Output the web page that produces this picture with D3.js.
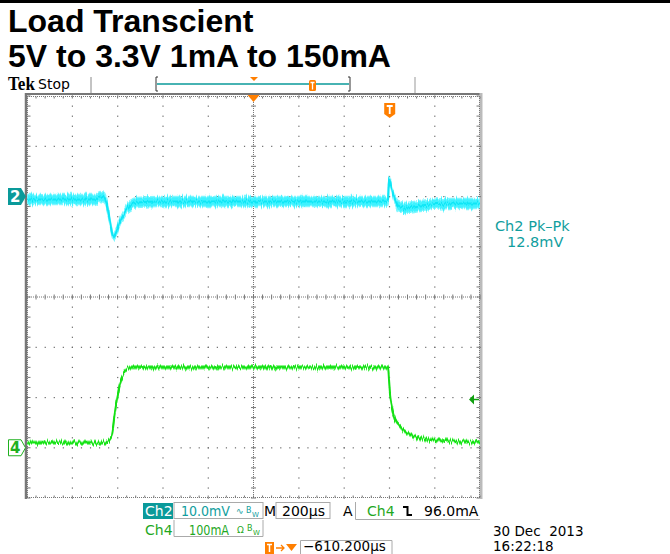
<!DOCTYPE html>
<html>
<head>
<meta charset="utf-8">
<script src="https://cdn.jsdelivr.net/npm/d3@7"></script>
<style>
  body { margin: 0; background: #fff; }
  svg { display: block; }
  text { font-family: "DejaVu Sans", sans-serif; }
</style>
</head>
<body>
<div id="chart"></div>
<script>
// time in us relative to the trigger, screen is 10 div of 200us, trigger 610.2us right of centre
var timeDomain = [-1610.2, 389.8];

// Ch2 output ripple (mV), envelope
var ch2Time   = [-1610, -1310, -1288, -1270, -1257, -1244, -1230, -1217, -1200, -1178, -1155, -1124, -1023, -626, -25, -16, -12, -3, 15, 28, 59, 125, 258, 390];
var ch2Mv     = [-0.6, -0.6, 0.0, -0.2, -1.6, -5.0, -8.0, -7.2, -5.0, -3.0, -1.8, -1.2, -1.0, -1.0, -1.0, -0.6, 3.4, 1.8, -0.6, -1.8, -2.2, -1.8, -1.4, -1.4];
var ch2Spread = [1.0, 1.0, 1.0, 1.0, 0.8, 0.6, 0.6, 0.6, 0.7, 0.8, 1.0, 1.0, 1.0, 1.0, 1.0, 0.8, 0.5, 0.6, 0.8, 1.0, 1.0, 1.0, 1.0, 1.0];

// Ch4 load current (mA)
var ch4Time   = [-1610, -1265, -1252, -1244, -1235, -1222, -1213, -1200, -1186, -1175, -1164, -1150, -16, -12, -7, 1, 15, 37, 81, 169, 258, 390];
var ch4Ma     = [10, 10, 13, 17, 26, 70, 96, 128, 146, 155, 159, 160, 160, 136, 106, 82, 56, 42, 26, 16, 14, 10];
var ch4Spread = [3.5, 3.5, 3.5, 3, 3, 3, 3, 3, 3, 3.5, 3.5, 3.5, 3.5, 3, 3, 3, 3, 3.5, 3.5, 3.5, 3.5, 3.5];

var ch2Scale = 10;    // mV/div
var ch4Scale = 100;   // mA/div
var ch2Pos = 2;       // div above centre
var ch4Pos = -3;
var trigLevel = 96;   // mA

var width = 670, height = 554;
var plot = {left: 27, right: 480, top: 96, bottom: 498};

var svg = d3.select("#chart").append("svg")
    .attr("width", width)
    .attr("height", height);

svg.append("rect").attr("width", width).attr("height", height).attr("fill", "#fff");

var defs = svg.append("defs");
var filt = defs.append("filter")
    .attr("id", "jit")
    .attr("filterUnits", "userSpaceOnUse")
    .attr("x", 0).attr("y", 80).attr("width", 520).attr("height", 440)
    .attr("color-interpolation-filters", "sRGB");
filt.append("feTurbulence")
    .attr("type", "fractalNoise")
    .attr("baseFrequency", "0.8 0.03")
    .attr("numOctaves", 2)
    .attr("seed", 4)
    .attr("result", "n");
filt.append("feColorMatrix")
    .attr("in", "n")
    .attr("type", "matrix")
    .attr("values", "0 0 0 0 0.5  0 1 0 0 0  0 0 0 0 0  0 0 0 0 1")
    .attr("result", "m");
filt.append("feDisplacementMap")
    .attr("in", "SourceGraphic")
    .attr("in2", "m")
    .attr("scale", 8)
    .attr("xChannelSelector", "R")
    .attr("yChannelSelector", "G");

defs.append("clipPath").attr("id", "plotClip")
  .append("rect")
    .attr("x", plot.left).attr("y", plot.top)
    .attr("width", plot.right - plot.left).attr("height", plot.bottom - plot.top);

var x = d3.scaleLinear().domain(timeDomain).range([plot.left, plot.right]);
var xDiv = d3.scaleLinear().domain([0, 10]).range([plot.left, plot.right]);
var yDiv = d3.scaleLinear().domain([4, -4]).range([plot.top, plot.bottom]);

// header
svg.append("rect").attr("x", 0).attr("y", 0).attr("width", width).attr("height", 3).attr("fill", "#000");

svg.append("text")
    .attr("x", 8).attr("y", 32)
    .style("font-family", "'Liberation Sans', Arial, sans-serif")
    .style("font-weight", "bold")
    .style("font-size", "32px")
    .text("Load Transcient");

svg.append("text")
    .attr("x", 8).attr("y", 67)
    .style("font-family", "'Liberation Sans', Arial, sans-serif")
    .style("font-weight", "bold")
    .style("font-size", "32px")
    .text("5V to 3.3V 1mA to 150mA");

svg.append("text")
    .attr("x", 8).attr("y", 90)
    .attr("textLength", 27)
    .attr("lengthAdjust", "spacingAndGlyphs")
    .style("font-family", "'Liberation Serif', 'DejaVu Serif', serif")
    .style("font-weight", "bold")
    .style("font-size", "18px")
    .text("Tek");

svg.append("text")
    .attr("x", 38).attr("y", 89)
    .style("font-size", "14px")
    .text("Stop");

// separators
svg.append("line").attr("x1", 91).attr("x2", 91).attr("y1", 77).attr("y2", 94)
    .attr("stroke", "#888").attr("stroke-width", 1);
svg.append("line").attr("x1", 415).attr("x2", 415).attr("y1", 77).attr("y2", 94)
    .attr("stroke", "#ccc").attr("stroke-width", 2);

// record bar
var bar = svg.append("g");
bar.append("line").attr("x1", 157).attr("x2", 349).attr("y1", 84).attr("y2", 84)
    .attr("stroke", "#0a9a9a").attr("stroke-width", 1.5);
bar.append("path").attr("d", "M158,77H156V91H158").attr("fill", "none").attr("stroke", "#333");
bar.append("path").attr("d", "M348,77H350V91H348").attr("fill", "none").attr("stroke", "#333");
bar.append("path").attr("d", "M250,77L258,77L254,81Z").attr("fill", "#ff7f00");
bar.append("rect").attr("x", 309).attr("y", 80).attr("width", 7).attr("height", 11).attr("rx", 1.5)
    .attr("fill", "#ff7f00");
bar.append("path").attr("d", "M310.5,82.5H314.5M312.5,82.5V89.5").attr("stroke", "#fff").attr("stroke-width", 1.3);

// graticule
var grid = svg.append("g");
var dotColor = "#6a6a6a";

// frame
grid.append("line").attr("x1", plot.left - 1).attr("x2", plot.right + 1).attr("y1", plot.top - 2).attr("y2", plot.top - 2)
    .attr("stroke", "#777").attr("stroke-width", 2);
grid.append("line").attr("x1", plot.left - 1).attr("x2", plot.left - 1).attr("y1", plot.top - 3).attr("y2", plot.bottom + 1)
    .attr("stroke", "#777").attr("stroke-width", 2.5);
grid.append("line").attr("x1", plot.right + 1).attr("x2", plot.right + 1).attr("y1", plot.top - 3).attr("y2", plot.bottom + 1)
    .attr("stroke", "#bbb").attr("stroke-width", 3);

var minorX = d3.range(0, 50.5, 1).map(function(d) { return d / 5; });
var minorY = d3.range(-20, 20.5, 1).map(function(d) { return d / 5; });

// dots along vertical grid lines
[1, 2, 3, 4, 6, 7, 8, 9].forEach(function(i) {
    grid.selectAll(null).data(minorY).enter().append("rect")
        .attr("x", xDiv(i) - 0.5).attr("y", function(d) { return yDiv(d) - 0.5; })
        .attr("width", 1.2).attr("height", 1.2).attr("fill", dotColor);
});
// dots along horizontal grid lines
[-3, -2, -1, 1, 2, 3].forEach(function(j) {
    grid.selectAll(null).data(minorX).enter().append("rect")
        .attr("x", function(d) { return xDiv(d) - 0.5; }).attr("y", yDiv(j) - 0.5)
        .attr("width", 1.2).attr("height", 1.2).attr("fill", dotColor);
});

// centre cross and edges: fine dotted line with ticks
function hLine(yv, tickLen) {
    grid.append("line").attr("x1", plot.left).attr("x2", plot.right).attr("y1", yv).attr("y2", yv)
        .attr("stroke", "#777").attr("stroke-width", 1).attr("stroke-dasharray", "1,1");
    grid.selectAll(null).data(minorX).enter().append("line")
        .attr("x1", function(d) { return xDiv(d); }).attr("x2", function(d) { return xDiv(d); })
        .attr("y1", yv - tickLen[0]).attr("y2", yv + tickLen[1])
        .attr("stroke", "#777").attr("stroke-width", 1);
}
function vLine(xv, tickLen) {
    grid.append("line").attr("x1", xv).attr("x2", xv).attr("y1", plot.top).attr("y2", plot.bottom)
        .attr("stroke", "#777").attr("stroke-width", 1).attr("stroke-dasharray", "1,1");
    grid.selectAll(null).data(minorY).enter().append("line")
        .attr("y1", function(d) { return yDiv(d); }).attr("y2", function(d) { return yDiv(d); })
        .attr("x1", xv - tickLen[0]).attr("x2", xv + tickLen[1])
        .attr("stroke", "#777").attr("stroke-width", 1);
}
hLine(yDiv(0), [2.5, 2.5]);
vLine(xDiv(5), [2.5, 2.5]);
hLine(plot.top + 0.5, [0, 2]);
hLine(plot.bottom - 0.5, [2, 0]);
vLine(plot.left + 0.5, [0, 3]);
vLine(plot.right - 0.5, [3, 0]);

// traces
var traces = svg.append("g").attr("clip-path", "url(#plotClip)");

function yCh2(v) { return yDiv(ch2Pos + v / ch2Scale); }
function yCh4(v) { return yDiv(ch4Pos + v / ch4Scale); }

var ch2Data = ch2Time.map(function(t, i) { return {t: t, v: ch2Mv[i], s: ch2Spread[i]}; });
var ch4Data = ch4Time.map(function(t, i) { return {t: t, v: ch4Ma[i], s: ch4Spread[i]}; });

var ch2Area = d3.area()
    .x(function(d) { return x(d.t); })
    .y0(function(d) { return yCh2(d.v - d.s); })
    .y1(function(d) { return yCh2(d.v + d.s); })
    .curve(d3.curveMonotoneX);
var ch4Area = d3.area()
    .x(function(d) { return x(d.t); })
    .y0(function(d) { return yCh4(d.v - d.s); })
    .y1(function(d) { return yCh4(d.v + d.s); })
    .curve(d3.curveMonotoneX);
var ch2Line = d3.line().x(function(d) { return x(d.t); }).y(function(d) { return yCh2(d.v); }).curve(d3.curveMonotoneX);
var ch4Line = d3.line().x(function(d) { return x(d.t); }).y(function(d) { return yCh4(d.v); }).curve(d3.curveMonotoneX);

var jg = traces.append("g").attr("filter", "url(#jit)");
jg.append("path").datum(ch2Data).attr("d", ch2Area).attr("fill", "#3ef2ff").attr("stroke", "#7ff7ff").attr("stroke-width", 1.5);
jg.append("path").datum(ch2Data).attr("d", ch2Line).attr("fill", "none").attr("stroke", "#0ee6f6").attr("stroke-width", 2);
jg.append("path").datum(ch4Data).attr("d", ch4Area).attr("fill", "#3cf03c").attr("stroke", "#8af58a").attr("stroke-width", 1);
jg.append("path").datum(ch4Data).attr("d", ch4Line).attr("fill", "none").attr("stroke", "#14e014").attr("stroke-width", 2);

// channel markers
var y2 = yCh2(0);
svg.append("path")
    .attr("d", "M8," + (y2 - 8.5) + "H21L26," + y2 + "L21," + (y2 + 8.5) + "H8Z")
    .attr("fill", "#0a9a9a");
svg.append("text").attr("x", 10).attr("y", y2 + 5.5)
    .style("font-size", "15px").style("font-weight", "bold").attr("fill", "#fff").text("2");

var y4 = yCh4(0);
svg.append("path")
    .attr("d", "M8.5," + (y4 - 8) + "H21L25.5," + y4 + "L21," + (y4 + 8) + "H8.5Z")
    .attr("fill", "#fff").attr("stroke", "#1fb01f").attr("stroke-width", 1);
svg.append("text").attr("x", 10).attr("y", y4 + 5.5)
    .style("font-size", "15px").style("font-weight", "bold").attr("fill", "#1fb01f").text("4");

// trigger level arrow
var yT = yCh4(trigLevel);
svg.append("path")
    .attr("d", "M469," + yT + "L474," + (yT - 5) + "V" + (yT + 5) + "Z")
    .attr("fill", "#10a010");
svg.append("line").attr("x1", 473).attr("x2", 479).attr("y1", yT).attr("y2", yT)
    .attr("stroke", "#10a010").attr("stroke-width", 1.5);

// trigger position marker and centre marker
svg.append("path").attr("d", "M" + (xDiv(5) - 6) + "," + (plot.top - 1) + "H" + (xDiv(5) + 6) + "L" + xDiv(5) + "," + (plot.top + 6) + "Z")
    .attr("fill", "#ff7f00");
var xT = x(0) - 2;
svg.append("path")
    .attr("d", "M" + (xT - 5.5) + ",103H" + (xT + 5.5) + "V114L" + xT + ",118L" + (xT - 5.5) + ",114Z")
    .attr("fill", "#ff7f00");
svg.append("path")
    .attr("d", "M" + (xT - 3) + ",106H" + (xT + 3) + "M" + xT + ",106V114")
    .attr("stroke", "#fff").attr("stroke-width", 1.8);

// measurement
svg.append("text").attr("x", 495).attr("y", 231).attr("fill", "#119e9e").style("font-size", "14.5px").text("Ch2 Pk\u2013Pk");
svg.append("text").attr("x", 507).attr("y", 247).attr("fill", "#119e9e").style("font-size", "14.5px").text("12.8mV");

// readouts
var ro = svg.append("g").style("font-size", "14px");
ro.append("rect").attr("x", 143).attr("y", 503).attr("width", 30).attr("height", 16).attr("fill", "#0a9a9a");
ro.append("text").attr("x", 145).attr("y", 516).attr("fill", "#fff").text("Ch2");
ro.append("rect").attr("x", 174).attr("y", 502.5).attr("width", 89).attr("height", 16)
    .attr("fill", "none").attr("stroke", "#aaa");
ro.append("text").attr("x", 181).attr("y", 516).attr("fill", "#119e9e")
    .attr("textLength", 49).attr("lengthAdjust", "spacingAndGlyphs").text("10.0mV");
ro.append("text").attr("x", 236).attr("y", 514).attr("fill", "#119e9e").style("font-size", "9px").text("\u223F");
ro.append("text").attr("x", 246).attr("y", 513).attr("fill", "#119e9e").style("font-size", "8px").text("B");
ro.append("text").attr("x", 252).attr("y", 517).attr("fill", "#119e9e").style("font-size", "7px").text("W");

ro.append("text").attr("x", 264).attr("y", 516).attr("fill", "#000").text("M");
ro.append("rect").attr("x", 276).attr("y", 502.5).attr("width", 54).attr("height", 16)
    .attr("fill", "none").attr("stroke", "#aaa");
ro.append("text").attr("x", 282).attr("y", 516).attr("fill", "#000").text("200\u00b5s");

ro.append("text").attr("x", 343).attr("y", 516).attr("fill", "#000").text("A");
ro.append("path").attr("d", "M355.5,502V519.5H480").attr("fill", "none").attr("stroke", "#aaa");
ro.append("text").attr("x", 367).attr("y", 516).attr("fill", "#1fa81f").text("Ch4");
ro.append("path").attr("d", "M403,507H407.5V515H412").attr("fill", "none").attr("stroke", "#000").attr("stroke-width", 2);
ro.append("text").attr("x", 424).attr("y", 516).attr("fill", "#000").text("96.0mA");

ro.append("text").attr("x", 145).attr("y", 535).attr("fill", "#1fa81f").text("Ch4");
ro.append("path").attr("d", "M174,520V536.5H263V520").attr("fill", "none").attr("stroke", "#aaa");
ro.append("text").attr("x", 189).attr("y", 535).attr("fill", "#1fa81f")
    .attr("textLength", 40).attr("lengthAdjust", "spacingAndGlyphs").text("100mA");
ro.append("text").attr("x", 237).attr("y", 533).attr("fill", "#1fa81f").style("font-size", "9px").text("\u03a9");
ro.append("text").attr("x", 247).attr("y", 531).attr("fill", "#1fa81f").style("font-size", "8px").text("B");
ro.append("text").attr("x", 253).attr("y", 535).attr("fill", "#1fa81f").style("font-size", "7px").text("W");

// delay readout
ro.append("rect").attr("x", 265).attr("y", 542).attr("width", 9).attr("height", 12).attr("fill", "#ff7f00");
ro.append("path").attr("d", "M267,544.5H272M269.5,544.5V552").attr("stroke", "#fff").attr("stroke-width", 1.5);
ro.append("path").attr("d", "M276,548H284M281,545L284,548L281,551").attr("fill", "none").attr("stroke", "#ff7f00").attr("stroke-width", 1.3);
ro.append("path").attr("d", "M286,544H297L291.5,551Z").attr("fill", "#ff7f00");
ro.append("path").attr("d", "M300.5,554V540.5H392V554").attr("fill", "none").attr("stroke", "#aaa");
ro.append("text").attr("x", 303).attr("y", 551).attr("fill", "#000").style("font-size", "13.5px").text("\u2212610.200\u00b5s");

// date
svg.append("text").attr("x", 493).attr("y", 536).style("font-size", "13.5px").attr("xml:space", "preserve").text("30 Dec  2013");
svg.append("text").attr("x", 493).attr("y", 551).style("font-size", "13.5px").text("16:22:18");
</script>
</body>
</html>
